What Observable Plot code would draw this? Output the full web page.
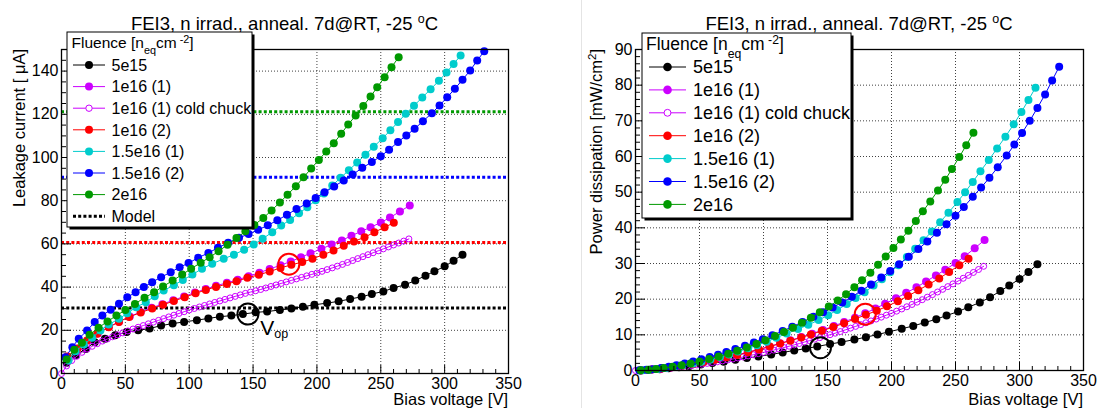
<!DOCTYPE html>
<html>
<head>
<meta charset="utf-8">
<script src="https://cdn.jsdelivr.net/npm/d3@7"></script>
<script src="https://cdn.jsdelivr.net/npm/@observablehq/plot@0.6"></script>
<style>
html,body{margin:0;padding:0;background:#fff;}
#wrap{position:relative;width:1097px;height:408px;overflow:hidden;background:#fff;font-family:"Liberation Sans",Arial,Helvetica,sans-serif;}
#wrap > svg{position:absolute;top:0;}
</style>
</head>
<body>
<div id="wrap"></div>
<script>
// ---------------- data ----------------
const seriesNames = ["5e15", "1e16 (1)", "1e16 (1) cold chuck", "1e16 (2)", "1.5e16 (1)", "1.5e16 (2)", "2e16"];
const openSeries = "1e16 (1) cold chuck";

// 5e15
const v5e15 = [4,11,19,26,34,42,51,60,69,78,87,96,106,115,124,133,142,152,161,171,180,189,198,208,217,226,235,243,252,260,269,277,285,292,300,307,314];
const i5e15 = [5,8.5,11.4,14.5,16.1,17.7,19.2,20.0,20.8,22.2,23.1,23.9,24.7,25.5,26.3,26.8,27.5,28.3,28.7,29.4,30.1,30.9,31.8,32.6,33.4,34.5,35.5,36.8,38.0,39.6,41.1,43.0,45.3,47.3,49.6,52.2,55.0];
const p5e15 = [0.03,0.16,0.37,0.65,0.94,1.28,1.69,2.07,2.47,2.99,3.47,3.96,4.51,5.06,5.62,6.15,6.73,7.42,7.97,8.67,9.34,10.07,10.86,11.69,12.50,13.44,14.38,15.42,16.51,17.75,19.06,20.54,22.26,23.81,25.66,27.63,29.78];

// 1e16 (1)
const v1e16a = [4.5,12.5,20.5,28.5,37,45,53.5,62,70.5,79,87.5,96,104.5,113,121,129.5,138,146.5,155,163,171.5,179.5,187.5,195,203.5,211.5,219.5,227,234.7,242,250,257.2,265,272.7];
const i1e16a = [7.8,11.5,15.3,18.5,21.5,24,26.4,28.5,30.4,32.1,33.9,35.7,37.5,39.1,40.6,42,43.4,45,46.7,48.4,50.1,51.9,53.8,55.7,57.7,59.7,61.6,63.8,65.8,67.7,69.9,72.2,75,77.8];
const p1e16a = [0.06,0.25,0.54,0.91,1.37,1.86,2.43,3.05,3.70,4.37,5.11,5.91,6.76,7.62,8.47,9.38,10.33,11.37,12.48,13.60,14.81,16.06,17.39,18.73,20.24,21.77,23.31,24.97,26.63,28.25,30.13,32.02,34.27,36.58];

// 1e16 (1) cold chuck
const vCold = [0,4,8,12,16,20,24,28,32,36,40,44,48,52,56,60,64,68,72,76,80,84,88,92,96,100,104,108,112,116,120,124,128,132,136,140,144,148,152,156,160,164,168,172,176,180,184,188,192,196,200,204,208,212,216,220,224,228,232,236,240,244,248,252,256,260,264,268,272];
const iCold = [0,3.5,6,8,9.8,11.3,12.6,13.8,15,16,17,17.9,18.8,19.7,20.6,21.4,22.2,23,23.8,24.6,25.4,26.2,27,27.8,28.6,29.4,30.1,30.8,31.5,32.2,32.9,33.6,34.3,35,35.7,36.4,37.1,37.7,38.3,38.9,39.6,40.3,41,41.7,42.4,43.1,43.8,44.5,45.2,45.9,46.5,47.3,48.1,48.9,49.7,50.5,51.4,52.3,53.2,54.1,55,55.9,56.8,57.7,58.6,59.5,60.4,61.3,62.3];
const pCold = [0,0.02,0.08,0.17,0.27,0.39,0.52,0.67,0.83,0.99,1.17,1.36,1.56,1.77,1.99,2.21,2.45,2.70,2.95,3.22,3.50,3.79,4.10,4.41,4.73,5.07,5.40,5.73,6.08,6.44,6.81,7.18,7.57,7.97,8.37,8.79,9.21,9.62,10.04,10.46,10.92,11.40,11.88,12.37,12.87,13.38,13.90,14.42,14.96,15.51,16.03,16.64,17.25,17.87,18.51,19.16,19.85,20.56,21.28,22.01,22.76,23.52,24.29,25.07,25.86,26.67,27.49,28.32,29.22];

// 1e16 (2)
const v1e16b = [4.5,12.5,20,28,37,45,53,62,71,79.5,88,96.5,105,113,121,129.5,137,145.5,154.5,163,171.5,180,188.5,196.5,205,213,221,229,237.3,245,253,260.2];
const i1e16b = [7.9,11.6,15.3,18.4,21.4,23.9,26.2,28.2,30.1,31.8,33.6,35.3,37.1,38.7,40.1,41.4,42.7,44.3,45.7,47.2,48.9,50.3,51.6,53.1,55,56.9,59.1,61.1,63.1,65.4,67.7,69.8];
const p1e16b = [0.06,0.25,0.53,0.89,1.37,1.85,2.39,3.01,3.68,4.36,5.10,5.87,6.72,7.54,8.37,9.24,10.09,11.11,12.17,13.27,14.46,15.61,16.77,17.99,19.44,20.90,22.52,24.12,25.82,27.63,29.53,31.31];

// 1.5e16 (1)
const v15e16a = [5.5,11,17.5,24,30.5,37,45,51.5,58.5,66,73,80,88,95,102.5,110,118,127,135,143,150.5,157.5,165,172,179,186,192.5,199,205.5,212,218.5,225,231.5,238,244.5,251.5,257.5,263.5,269.5,276,282.5,289,295.5,301.5,307,312.5];
const i15e16a = [6,10.3,13.4,16.5,19.9,22.7,25.3,27.9,30.7,33,35.8,38.4,40.9,43.3,45.8,48.5,50.8,53.1,55,57.3,59.7,62.4,65.4,68.5,71.1,74.2,77,80.2,83.3,87,90.6,94.1,97.7,101.3,105,108.9,112.6,116.4,120.2,124,127.8,131.6,135.5,139.4,143.3,147.2];
const p15e16a = [0.06,0.20,0.40,0.68,1.05,1.45,1.96,2.48,3.10,3.76,4.51,5.30,6.21,7.09,8.09,9.20,10.34,11.63,12.80,14.13,15.49,16.94,18.61,20.31,21.94,23.80,25.56,27.52,29.51,31.80,34.13,36.50,39.00,41.57,44.26,47.22,49.99,52.88,55.85,59.01,62.25,65.57,69.03,72.46,75.85,79.31];

// 1.5e16 (2)
const v15e16b = [3,8.5,13.5,20,26,32,38.5,45,51.5,58,64.5,71,78,85.5,92.5,99.5,107,115,122.5,130.5,139,146.5,154,161.5,169,176.5,184,192,199,206,213.5,221,228,235.5,243,250,256.5,263.5,270,276.5,283,290,296,302,308,314,320,325.5,331];
const i15e16b = [7.5,12.2,16.1,19.9,23.8,26.9,29.5,32.3,35.3,37.6,40,42.3,44.6,46.9,49.2,51.1,53.6,55.8,58.2,60.5,62.8,64.6,66.5,68.6,70.9,73.5,76.1,78.7,81.3,83.9,86.6,89.4,92.1,95.2,97.9,100.6,103.6,107.2,110.2,113.3,116.8,120.5,124.1,127.9,131.8,136,140.3,144.9,149.2];
const p15e16b = [0.04,0.18,0.37,0.69,1.07,1.48,1.96,2.51,3.13,3.76,4.45,5.18,6.00,6.91,7.85,8.77,9.89,11.06,12.29,13.61,15.05,16.32,17.66,19.10,20.66,22.37,24.14,26.05,27.89,29.80,31.88,34.06,36.20,38.65,41.02,43.36,45.82,48.70,51.30,54.01,56.99,60.25,63.33,66.60,69.99,73.63,77.41,81.32,85.15];

// 2e16
const v2e16 = [4,10,16,22,29,36,43,50,57.5,65,72.5,79.5,87,94.5,101.5,109,116,123,130,137,144,151,158,164.5,171,177,183.5,189.5,195.5,201.5,207.3,213.2,219,224.5,230.3,236.3,242,247.2,253,258.4,264];
const i2e16 = [6.5,11,14.2,17.9,21.2,24.1,26.8,29.4,32.2,35.1,37.6,40.3,43,45.8,48.5,51.3,53.8,56.6,59.6,62.7,65.8,68.8,72,75.5,79.2,82.8,86.7,90.8,94.9,98.9,102.8,106.6,111,115.3,119.4,123.9,128.2,132.5,137.2,141.8,146.4];
const p2e16 = [0.04,0.19,0.39,0.68,1.06,1.50,1.99,2.53,3.19,3.93,4.70,5.52,6.45,7.46,8.49,9.64,10.76,12.00,13.36,14.81,16.34,17.91,19.61,21.41,23.35,25.27,27.43,29.67,31.99,34.36,36.74,39.18,41.91,44.63,47.41,50.48,53.49,56.47,59.85,63.17,66.64];

// model currents (left panel)
const modelCurrent = [30.3, 60.6, 90.9, 121.2];
const modelSeries = ["5e15", "1e16 (2)", "1.5e16 (2)", "2e16"];

// operating points (circles)
const opLeftV = [146, 178];
const opLeftI = [27.5, 50.6];
const opRightV = [144.5, 179.5];
const opRightP = [6.4, 15.8];
const opSeries = ["5e15", "1e16 (2)"];
const opLabelV = 156, opLabelI = 17.6;

// axes ticks
const xMajor = [0,50,100,150,200,250,300,350];
const yMajorLeft = [0,20,40,60,80,100,120,140];
const yMajorRight = [0,10,20,30,40,50,60,70,80,90];

// ---------------- styles ----------------
const colorOf = {
  "5e15": "#000000",
  "1e16 (1)": "#cc00ff",
  "1e16 (1) cold chuck": "#cc00ff",
  "1e16 (2)": "#ff0000",
  "1.5e16 (1)": "#00cccc",
  "1.5e16 (2)": "#0000ff",
  "2e16": "#009900"
};
const FONT = '"Liberation Sans", Arial, Helvetica, sans-serif';

const vArr = [v5e15, v1e16a, vCold, v1e16b, v15e16a, v15e16b, v2e16];
const iArr = [i5e15, i1e16a, iCold, i1e16b, i15e16a, i15e16b, i2e16];
const pArr = [p5e15, p1e16a, pCold, p1e16b, p15e16a, p15e16b, p2e16];

function rowsFrom(yArrs) {
  const out = [];
  seriesNames.forEach((s, k) => vArr[k].forEach((v, j) => out.push({s, v, y: yArrs[k][j]})));
  return out;
}

function panel(cfg) {
  const {rows, yMax, yMajor, yMinorStep, width, height, ml, mr, mt, mb, model, opV, opY} = cfg;
  const fw = width - ml - mr, fh = height - mt - mb;
  const xMinor = d3.range(0, 351, 10).filter(d => d % 50 !== 0);
  const yMinor = d3.range(0, yMax + 0.001, yMinorStep).filter(d => !yMajor.includes(d) && d < yMax);
  const grid = {stroke: "#000", strokeWidth: 1, strokeDasharray: "1,2", strokeOpacity: 0.75};
  const marks = [
    Plot.ruleX(xMajor.filter(d => d > 0 && d < 350), {x: d => d, ...grid}),
    Plot.ruleY(yMajor.filter(d => d > 0 && d < yMax), {y: d => d, ...grid})
  ];
  if (model) model.forEach((m, k) => marks.push(
    Plot.ruleY([m], {y: d => d, stroke: colorOf[modelSeries[k]], strokeWidth: 3, strokeDasharray: "3,2.2"})));
  seriesNames.forEach(s => {
    const data = rows.filter(d => d.s === s);
    marks.push(Plot.line(data, {x: "v", y: "y", stroke: colorOf[s], strokeWidth: 1}));
    if (s === openSeries)
      marks.push(Plot.dot(data, {x: "v", y: "y", r: 3, stroke: colorOf[s], strokeWidth: 1, fill: "none"}));
    else
      marks.push(Plot.dot(data, {x: "v", y: "y", r: 4, fill: colorOf[s]}));
  });
  opV.forEach((v, k) => marks.push(
    Plot.dot([{v, y: opY[k]}], {x: "v", y: "y", r: k === 0 ? 10.5 : 10.5, stroke: colorOf[opSeries[k]], strokeWidth: 2, fill: "none"})));
  marks.push(
    Plot.frame({stroke: "#000", strokeWidth: 1.3}),
    Plot.tickX(xMajor, {x: d => d, insetTop: fh - 8, stroke: "#000"}),
    Plot.tickX(xMinor, {x: d => d, insetTop: fh - 4, stroke: "#000"}),
    Plot.tickY(yMajor, {y: d => d, insetRight: fw - 10, stroke: "#000"}),
    Plot.tickY(yMinor, {y: d => d, insetRight: fw - 5, stroke: "#000"}),
    Plot.axisX(xMajor, {tickSize: 0, tickPadding: 4, label: null}),
    Plot.axisY(yMajor, {tickSize: 0, tickPadding: 3, label: null})
  );
  return Plot.plot({
    width, height, marginLeft: ml, marginRight: mr, marginTop: mt, marginBottom: mb,
    x: {domain: [0, 350]},
    y: {domain: [0, yMax]},
    style: {fontFamily: FONT, fontSize: "16px", background: "transparent", color: "#000", overflow: "visible"},
    marks
  });
}

const wrap = document.getElementById("wrap");

const leftSvg = panel({
  rows: rowsFrom(iArr), yMax: 150, yMajor: yMajorLeft, yMinorStep: 5,
  width: 548, height: 408, ml: 61, mr: 40, mt: 49, mb: 35,
  model: modelCurrent, opV: opLeftV, opY: opLeftI
});
leftSvg.style.left = "0px";
wrap.appendChild(leftSvg);

const rightSvg = panel({
  rows: rowsFrom(pArr), yMax: 90, yMajor: yMajorRight, yMinorStep: 2,
  width: 548, height: 408, ml: 86, mr: 14, mt: 49, mb: 38,
  model: null, opV: opRightV, opY: opRightP
});
rightSvg.style.left = "549px";
wrap.appendChild(rightSvg);

// ---------------- overlay: titles, axis titles, legends ----------------
function title(cx) {
  return `<text x="${cx}" y="29.5" text-anchor="middle" font-size="18.5">FEI3, n irrad., anneal. 7d@RT, -25 <tspan dy="-7" font-size="12.5">o</tspan><tspan dy="7">C</tspan></text>`;
}
function legend(L) {
  const w = L.x1 - L.x0, h = L.y1 - L.y0;
  let s = `<rect x="${L.x0 + 2.5}" y="${L.y0 + 2.5}" width="${w}" height="${h}" fill="#000"/>`;
  s += `<rect x="${L.x0}" y="${L.y0}" width="${w}" height="${h}" fill="#fff" stroke="#000" stroke-width="1"/>`;
  const f = L.hfs;
  s += `<text x="${L.hx}" y="${L.hy}" font-size="${f}">Fluence [n<tspan dy="${0.45 * f}" font-size="${0.7 * f}">eq</tspan><tspan dy="${-0.45 * f}">cm</tspan><tspan dy="${-0.32 * f}" font-size="${0.7 * f}"> -2</tspan><tspan dy="${0.32 * f}">]</tspan></text>`;
  L.entries.forEach((name, k) => {
    const yc = L.row0 + k * L.rowStep;
    const xm = (L.lx0 + L.lx1) / 2;
    if (name === "Model") {
      s += `<line x1="${L.lx0}" x2="${L.lx1}" y1="${yc}" y2="${yc}" stroke="#000" stroke-width="3" stroke-dasharray="3,2.2"/>`;
    } else {
      const c = colorOf[name];
      s += `<line x1="${L.lx0}" x2="${L.lx1}" y1="${yc}" y2="${yc}" stroke="${c}" stroke-width="1"/>`;
      if (name === openSeries) s += `<circle cx="${xm}" cy="${yc}" r="${L.r * 0.8}" fill="#fff" stroke="${c}" stroke-width="1"/>`;
      else s += `<circle cx="${xm}" cy="${yc}" r="${L.r}" fill="${c}"/>`;
    }
    s += `<text x="${L.tx}" y="${yc + 0.36 * L.fs}" font-size="${L.fs}">${name}</text>`;
  });
  return `<g>${s}</g>`;
}

const lx = leftSvg.scale("x"), ly = leftSvg.scale("y");
const opX = lx.apply(opLabelV), opYpx = ly.apply(opLabelI);

let ov = "";
ov += `<line x1="581.5" x2="581.5" y1="0" y2="408" stroke="#e4e4e4" stroke-width="1"/>`;
ov += title(284.5) + title(859);
ov += `<text transform="translate(25,49) rotate(-90)" text-anchor="end" font-size="16.5">Leakage current [ μA]</text>`;
ov += `<text transform="translate(602,49) rotate(-90)" text-anchor="end" font-size="16.5">Power dissipation [mW/cm<tspan dy="-6" font-size="11.5">2</tspan><tspan dy="6">]</tspan></text>`;
ov += `<text x="508" y="405" text-anchor="end" font-size="16.5">Bias voltage [V]</text>`;
ov += `<text x="1083" y="405" text-anchor="end" font-size="16.5">Bias voltage [V]</text>`;
ov += `<text x="${opX}" y="${opYpx}" font-size="21">V<tspan dy="3" font-size="12.5">op</tspan></text>`;
ov += legend({x0: 67, y0: 32, x1: 252, y1: 227, hx: 71.5, hy: 47.5, hfs: 15.5, fs: 16,
  row0: 65, rowStep: 21.6, lx0: 73, lx1: 105, tx: 111.5, r: 4,
  entries: [...seriesNames, "Model"]});
ov += legend({x0: 642, y0: 33, x1: 851, y1: 218, hx: 646, hy: 50, hfs: 17.5, fs: 18,
  row0: 67, rowStep: 22.9, lx0: 649, lx1: 686, tx: 693, r: 4.3,
  entries: seriesNames});

const overlay = document.createElementNS("http://www.w3.org/2000/svg", "svg");
overlay.setAttribute("width", "1097");
overlay.setAttribute("height", "408");
overlay.setAttribute("viewBox", "0 0 1097 408");
overlay.style.left = "0px";
overlay.style.fontFamily = FONT;
overlay.style.pointerEvents = "none";
overlay.innerHTML = ov;
wrap.appendChild(overlay);
</script>
</body>
</html>
